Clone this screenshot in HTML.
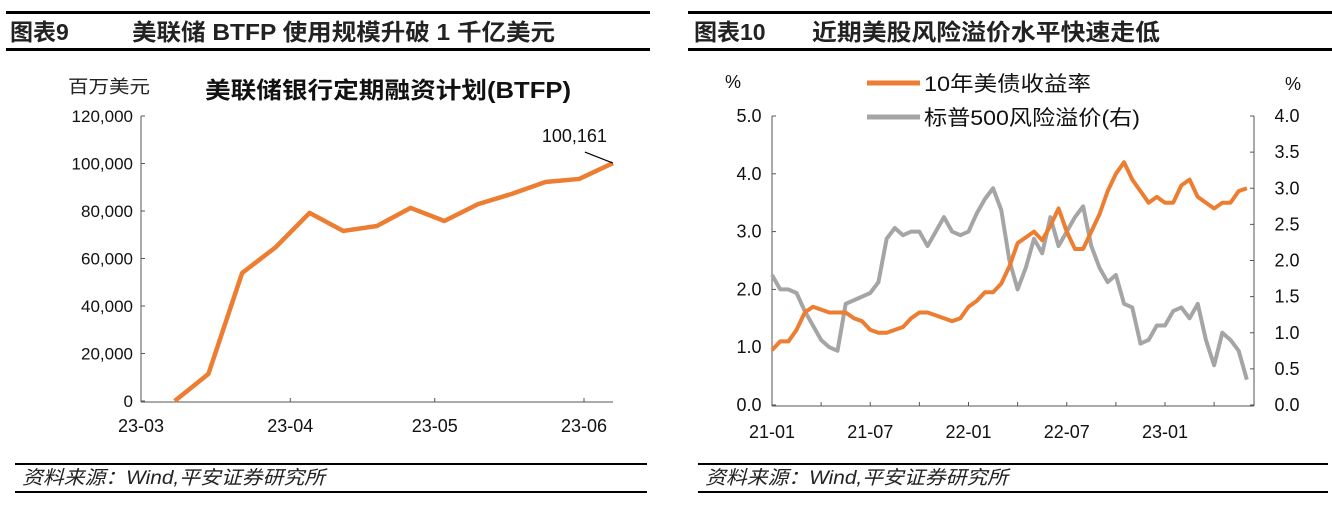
<!DOCTYPE html>
<html><head><meta charset="utf-8"><style>
body{margin:0;background:#fff;width:1332px;height:500px;overflow:hidden;font-family:"Liberation Sans","Noto Sans CJK SC",sans-serif}
svg text{font-family:"Liberation Sans","Noto Sans CJK SC",sans-serif}
</style></head><body>
<svg id="s" width="1332" height="500" xmlns="http://www.w3.org/2000/svg">
<g>
<rect x="6" y="11" width="644" height="3" fill="#000"/>
<rect x="6" y="48" width="644" height="3" fill="#000"/>
<text x="10" y="40" font-size="23" font-weight="bold" fill="#222">图表9</text>
<text x="132" y="40" font-size="23" font-weight="bold" fill="#222" textLength="423" lengthAdjust="spacingAndGlyphs">美联储 BTFP 使用规模升破 1 千亿美元</text>
</g>
<g>
<rect x="688" y="11" width="644" height="3" fill="#000"/>
<rect x="688" y="48" width="644" height="3" fill="#000"/>
<text x="694" y="40" font-size="23" font-weight="bold" fill="#222">图表10</text>
<text x="812" y="40" font-size="23" font-weight="bold" fill="#222" textLength="348" lengthAdjust="spacingAndGlyphs">近期美股风险溢价水平快速走低</text>
</g>
<g>
<rect x="15" y="463" width="632" height="2" fill="#000"/>
<rect x="15" y="491" width="632" height="2" fill="#000"/>
<text x="22" y="484" font-size="19" font-style="italic" fill="#222" textLength="303" lengthAdjust="spacingAndGlyphs">资料来源：Wind,平安证券研究所</text>
</g>
<g>
<rect x="698" y="463" width="630" height="2" fill="#000"/>
<rect x="698" y="491" width="630" height="2" fill="#000"/>
<text x="705" y="484" font-size="19" font-style="italic" fill="#222" textLength="303" lengthAdjust="spacingAndGlyphs">资料来源：Wind,平安证券研究所</text>
</g>
<g id="left"></g>
<g id="right"></g>
</svg>
<script>
const NS="http://www.w3.org/2000/svg";
// Left chart data
const btfpDays=[7,14,21,28,35,42,49,56,63,70,77,84,91,98];
const btfpValues=[0,11400,53900,64800,79200,71600,73700,81300,75800,82900,87200,92200,93500,100161];
const btfpYTicks=[0,20000,40000,60000,80000,100000,120000];
const btfpXLabels=["23-03","23-04","23-05","23-06"];
const btfpXLabelDays=[0,31,61,92];
// Right chart data (semi-monthly from 2021-01)
const ust10y=[0.95,1.1,1.1,1.3,1.6,1.7,1.65,1.6,1.6,1.6,1.5,1.45,1.3,1.25,1.25,1.3,1.35,1.5,1.6,1.6,1.55,1.5,1.45,1.5,1.7,1.8,1.95,1.95,2.1,2.4,2.8,2.9,3.0,2.85,3.1,3.4,3.0,2.7,2.7,3.0,3.3,3.7,4.0,4.2,3.9,3.7,3.5,3.6,3.5,3.5,3.8,3.9,3.6,3.5,3.4,3.5,3.5,3.7,3.75];
const spxErp=[1.8,1.6,1.6,1.55,1.3,1.1,0.9,0.8,0.75,1.4,1.45,1.5,1.55,1.7,2.3,2.45,2.35,2.4,2.4,2.2,2.4,2.6,2.4,2.35,2.4,2.65,2.85,3.0,2.7,2.0,1.6,1.9,2.3,2.1,2.6,2.2,2.4,2.6,2.75,2.2,1.9,1.7,1.8,1.4,1.35,0.85,0.9,1.1,1.1,1.3,1.35,1.2,1.4,0.9,0.55,1.0,0.9,0.75,0.35];
const leftTicks=[0,1,2,3,4,5];
const rightTicks=[0,0.5,1,1.5,2,2.5,3,3.5,4];
const rXLabels=["21-01","21-07","22-01","22-07","23-01"];
const rXLabelMonths=[0,6,12,18,24];

function mk(tag,attrs,parent,text){const e=document.createElementNS(NS,tag);for(const k in attrs)e.setAttribute(k,attrs[k]);if(text!==undefined)e.textContent=text;parent.appendChild(e);return e;}

// ----- left chart -----
const L=document.getElementById('left');
const lx=d=>141+d*(443/92);
const ly=v=>401-v*(285/120000);
let e;
e=mk('text',{x:68,y:93,'font-size':18,fill:'#222',textLength:82,lengthAdjust:'spacingAndGlyphs'},L,'百万美元');


e=mk('text',{x:205,y:98,'font-size':23,'font-weight':'bold',fill:'#111',textLength:366,lengthAdjust:'spacingAndGlyphs'},L,'美联储银行定期融资计划(BTFP)');


mk('line',{x1:141,y1:116,x2:141,y2:402,stroke:'#555','stroke-width':1},L);
mk('line',{x1:141,y1:402,x2:613,y2:402,stroke:'#555','stroke-width':1},L);
btfpYTicks.forEach(v=>{
  mk('line',{x1:141,y1:ly(v),x2:145,y2:ly(v),stroke:'#555'},L);
  const t=mk('text',{x:133,y:ly(v)+6,'font-size':17,'text-anchor':'end',fill:'#111'},L,v.toLocaleString('en-US'));
  
  
});
btfpXLabels.forEach((s,i)=>{
  const x=lx(btfpXLabelDays[i]);
  mk('line',{x1:x,y1:398,x2:x,y2:402,stroke:'#555'},L);
  const t=mk('text',{x:x,y:432,'font-size':18,'text-anchor':'middle',fill:'#111'},L,s);
  
  
});
const lp=mk('polyline',{points:btfpDays.map((d,i)=>lx(d)+','+ly(btfpValues[i])).join(' '),fill:'none',stroke:'#ed7d31','stroke-width':4.5,'stroke-linejoin':'round'},L);


const lastX=lx(btfpDays[btfpDays.length-1]),lastY=ly(btfpValues[btfpValues.length-1]);
mk('line',{x1:lastX-28,y1:lastY-11,x2:lastX,y2:lastY,stroke:'#000','stroke-width':1.2},L);
e=mk('text',{x:lastX-6,y:lastY-21,'font-size':18,'text-anchor':'end',fill:'#111'},L,btfpValues[btfpValues.length-1].toLocaleString('en-US'));



// ----- right chart -----
const R=document.getElementById('right');
const rx=i=>772+i*0.5*(393/24);
const ryL=v=>405-v*57.8;
const ryR=v=>405-v*72.25;
mk('line',{x1:772,y1:116,x2:772,y2:406,stroke:'#555'},R);
mk('line',{x1:1254,y1:116,x2:1254,y2:406,stroke:'#555'},R);
mk('line',{x1:772,y1:406,x2:1254,y2:406,stroke:'#555'},R);
e=mk('text',{x:733,y:88,'font-size':18,'text-anchor':'middle',fill:'#111'},R,'%');


e=mk('text',{x:1293,y:90,'font-size':18,'text-anchor':'middle',fill:'#111'},R,'%');


leftTicks.forEach(v=>{
  mk('line',{x1:772,y1:ryL(v),x2:776,y2:ryL(v),stroke:'#555'},R);
  const t=mk('text',{x:749,y:ryL(v)+6,'font-size':18,'text-anchor':'middle',fill:'#111'},R,v.toFixed(1));
  
  
});
rightTicks.forEach(v=>{
  mk('line',{x1:1250,y1:ryR(v),x2:1254,y2:ryR(v),stroke:'#555'},R);
  const t=mk('text',{x:1287,y:ryR(v)+6,'font-size':18,'text-anchor':'middle',fill:'#111'},R,v.toFixed(1));
  
  
});
for(let q=0;q<=9;q++){const x=772+q*3*(393/24);mk('line',{x1:x,y1:402,x2:x,y2:406,stroke:'#555'},R);}
rXLabels.forEach((s,i)=>{
  const t=mk('text',{x:772+rXLabelMonths[i]*(393/24),y:438,'font-size':18,'text-anchor':'middle',fill:'#111'},R,s);
  
  
});
const g1=mk('polyline',{points:spxErp.map((v,i)=>rx(i)+','+ryR(v)).join(' '),fill:'none',stroke:'#a5a5a5','stroke-width':4,'stroke-linejoin':'round'},R);


const o1=mk('polyline',{points:ust10y.map((v,i)=>rx(i)+','+ryL(v)).join(' '),fill:'none',stroke:'#ed7d31','stroke-width':4,'stroke-linejoin':'round'},R);


// legend
mk('line',{x1:867,y1:83,x2:920,y2:83,stroke:'#ed7d31','stroke-width':5},R);
e=mk('text',{x:924,y:91,'font-size':21,fill:'#111',textLength:167,lengthAdjust:'spacingAndGlyphs'},R,'10年美债收益率');


mk('line',{x1:867,y1:117,x2:920,y2:117,stroke:'#a5a5a5','stroke-width':5},R);
e=mk('text',{x:924,y:125,'font-size':21,fill:'#111',textLength:216,lengthAdjust:'spacingAndGlyphs'},R,'标普500风险溢价(右)');


</script>
</body></html>
